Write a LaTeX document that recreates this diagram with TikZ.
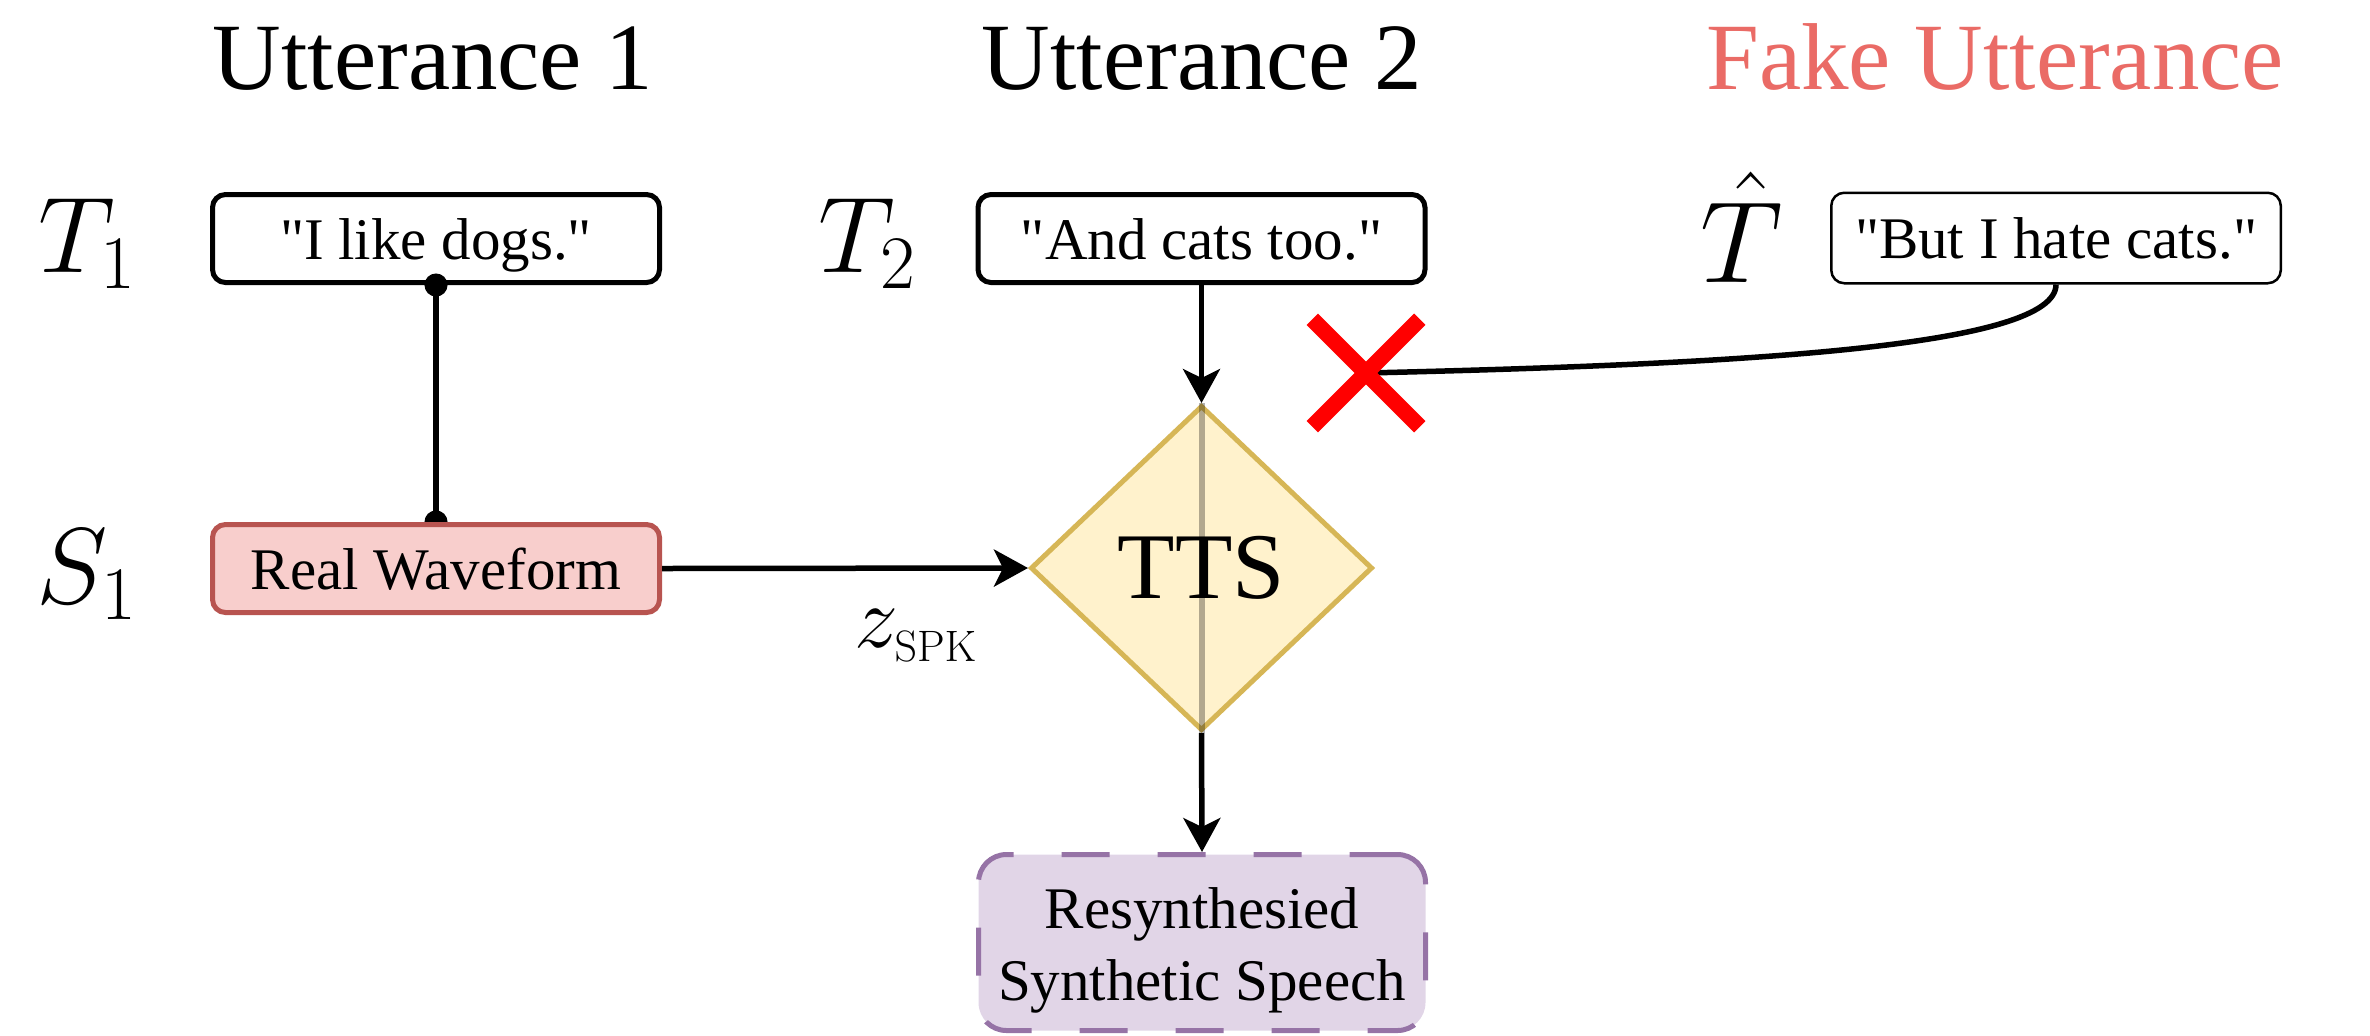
\RequirePackage{fix-cm}
\documentclass[tikz,border=0pt]{standalone}
\usepackage[no-math]{fontspec}
\setmainfont{Liberation Serif}
\usetikzlibrary{arrows.meta,shapes.geometric}
\definecolor{titlered}{HTML}{EA6B66}
\definecolor{rwfill}{HTML}{F8CECC}
\definecolor{rwdraw}{HTML}{B85450}
\definecolor{ttsfill}{HTML}{FFF2CC}
\definecolor{ttsdraw}{HTML}{D6B656}
\definecolor{resfill}{HTML}{E1D5E7}
\definecolor{resdraw}{HTML}{9673A6}
\definecolor{xred}{HTML}{FF0000}
\newcommand{\sq}{\textquotedbl}
\pgfdeclarelayer{background}
\pgfsetlayers{background,main}
\begin{document}
\begin{tikzpicture}[x=0.5pt,y=-0.5pt,
  title/.style={font=\fontsize{47.5pt}{57pt}\selectfont, inner sep=0pt},
  mlabel/.style={font=\fontsize{54pt}{64pt}\selectfont, inner sep=0pt},
  tbox/.style={draw, line width=2.5pt, rounded corners=6.5pt, minimum width=223.5pt, minimum height=44pt, inner sep=0pt, text height=20.5pt, text depth=0pt, font=\fontsize{29.5pt}{36pt}\selectfont},
  resbox/.style={draw=resdraw, fill=resfill, line width=2.5pt, dash pattern=on 24pt off 24pt, rounded corners=14pt, minimum width=223.5pt, minimum height=88pt, inner sep=0pt, text height=0pt, text depth=14.5pt, font=\fontsize{29.5pt}{36pt}\selectfont},
  ttsbox/.style={diamond, fill=ttsfill, draw=ttsdraw, line width=2.5pt, minimum width=171pt, minimum height=162.5pt, inner sep=0pt, font=\fontsize{47pt}{56pt}\selectfont},
  conn/.style={line width=2.75pt},
  arr/.style={conn, -{Stealth[length=17pt, width=18.5pt, inset=4.5pt]}},
  xmark/.style={draw=xred, line width=8pt, line cap=butt}
]
\useasboundingbox (0,0) rectangle (2370,1035);
% headers
\node[title, anchor=base] (u1) at (433,89) {Utterance 1};
\node[title, anchor=base] (u2) at (1202,89) {Utterance 2};
\node[title, anchor=base, text=titlered] (uf) at (1995,89) {Fake Utterance};
% math labels
\node[mlabel, anchor=base] (t1) at (87,272) {$T_1$};
\node[mlabel, anchor=base] (t2) at (867,272) {$T_2$};
\node[mlabel, anchor=base, font=\fontsize{58pt}{68pt}\selectfont] (th) at (1742,282) {$\hat{T}$};
\node[mlabel, anchor=base] (s1) at (87,603) {$S_1$};
% boxes
\node[tbox] (q1) at (436,238.5) {\sq I like dogs.\sq};
\node[tbox] (q2) at (1201.5,238.5) {\sq And cats too.\sq};
\node[tbox, line width=1.25pt, minimum width=224.75pt, minimum height=45.25pt] (qf) at (2056,238) {\sq But I hate cats.\sq};
\node[tbox, fill=rwfill, draw=rwdraw] (rw) at (436,568.5) {Real Waveform};
\node[ttsbox] (tts) at (1201.5,568) {TTS};
\node[resbox] (res) at (1202,942.5) {\begin{tabular}[t]{@{}c@{}}Resynthesied\\Synthetic Speech\end{tabular}};
% connectors
\begin{pgfonlayer}{background}
\draw[conn, {Circle[length=11.5pt]}-{Circle[length=11.5pt]}, shorten <=-5.75pt, shorten >=-5.75pt] (q1.south) -- (rw.north);
\end{pgfonlayer}
\draw[arr] (q2.south) -- (tts.north);
\draw[arr] (rw.east) -- node[pos=0.694, anchor=north, yshift=-19.5pt, inner sep=0pt, font=\fontsize{44pt}{50pt}\selectfont] (zspk) {$z_{\scriptscriptstyle\mathrm{SPK}}$} (tts.west);
\draw[arr] (tts.south) -- (res.north);
\draw[black, opacity=0.3, line width=3pt] (tts.north) -- (tts.south);
% rejected fake text
\coordinate (xc) at (1366,373);
\draw[conn] (qf.south) .. controls +(0,62) and (1750,364) .. (xc);
\draw[xmark] (xc) ++(-53.75,-53.75) -- ++(107.5,107.5);
\draw[xmark] (xc) ++(53.75,-53.75) -- ++(-107.5,107.5);
\end{tikzpicture}
\end{document}
